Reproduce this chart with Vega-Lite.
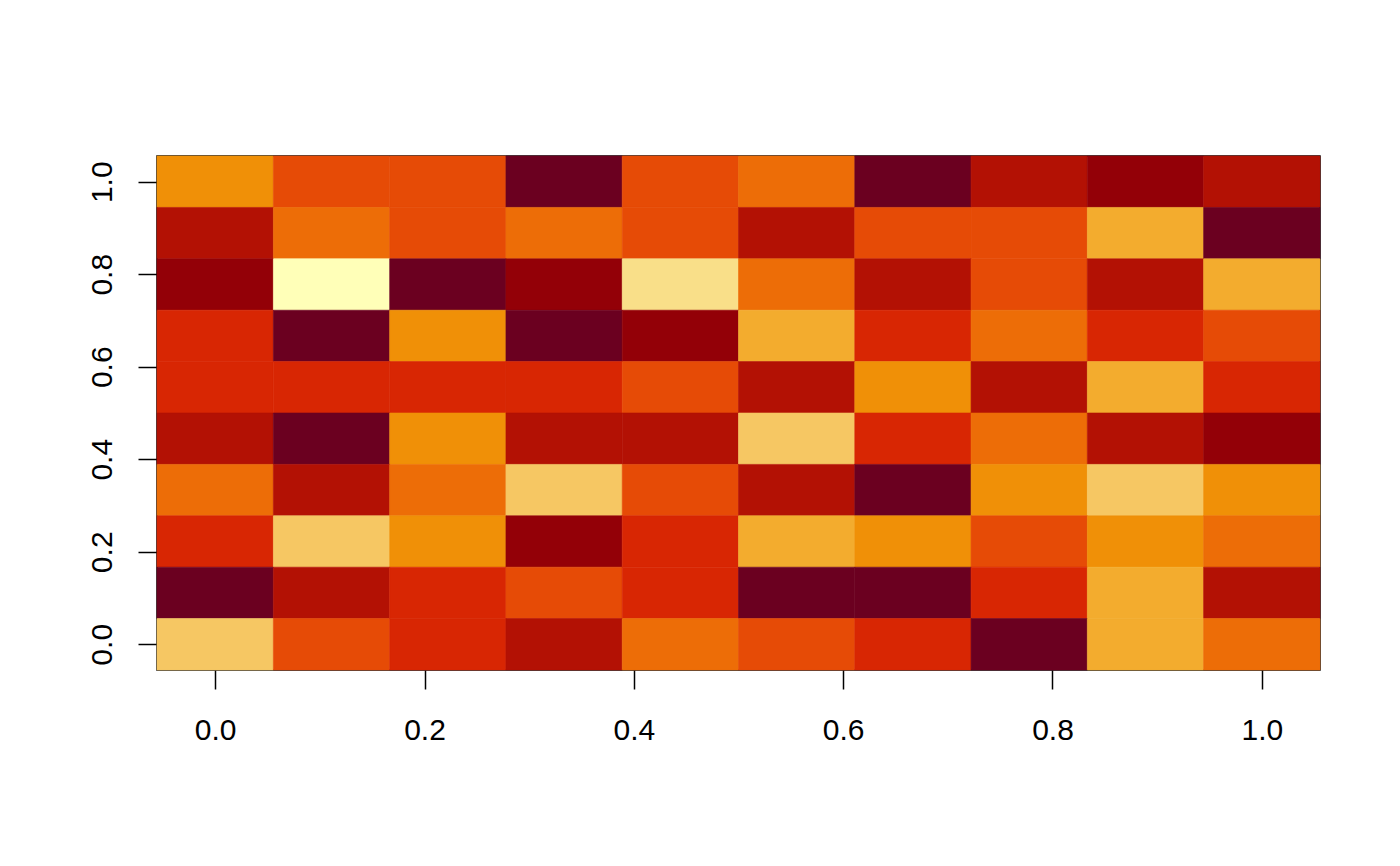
{
  "$schema": "https://vega.github.io/schema/vega-lite/v6.json",
  "width": 1163,
  "height": 514,
  "autosize": "none",
  "padding": {"left": 157, "top": 156, "right": 80, "bottom": 196},
  "background": "white",
  "config": {
    "view": {"stroke": "black", "strokeWidth": 1.5},
    "font": "Liberation Sans"
  },
  "datasets": {
    "grid": [
      {"x0": -0.0556, "x1": 0.0556, "y0": 0.9444, "y1": 1.0556, "v": 7},
      {"x0": 0.0556, "x1": 0.1667, "y0": 0.9444, "y1": 1.0556, "v": 5},
      {"x0": 0.1667, "x1": 0.2778, "y0": 0.9444, "y1": 1.0556, "v": 5},
      {"x0": 0.2778, "x1": 0.3889, "y0": 0.9444, "y1": 1.0556, "v": 1},
      {"x0": 0.3889, "x1": 0.5, "y0": 0.9444, "y1": 1.0556, "v": 5},
      {"x0": 0.5, "x1": 0.6111, "y0": 0.9444, "y1": 1.0556, "v": 6},
      {"x0": 0.6111, "x1": 0.7222, "y0": 0.9444, "y1": 1.0556, "v": 1},
      {"x0": 0.7222, "x1": 0.8333, "y0": 0.9444, "y1": 1.0556, "v": 3},
      {"x0": 0.8333, "x1": 0.9444, "y0": 0.9444, "y1": 1.0556, "v": 2},
      {"x0": 0.9444, "x1": 1.0556, "y0": 0.9444, "y1": 1.0556, "v": 3},

      {"x0": -0.0556, "x1": 0.0556, "y0": 0.8333, "y1": 0.9444, "v": 3},
      {"x0": 0.0556, "x1": 0.1667, "y0": 0.8333, "y1": 0.9444, "v": 6},
      {"x0": 0.1667, "x1": 0.2778, "y0": 0.8333, "y1": 0.9444, "v": 5},
      {"x0": 0.2778, "x1": 0.3889, "y0": 0.8333, "y1": 0.9444, "v": 6},
      {"x0": 0.3889, "x1": 0.5, "y0": 0.8333, "y1": 0.9444, "v": 5},
      {"x0": 0.5, "x1": 0.6111, "y0": 0.8333, "y1": 0.9444, "v": 3},
      {"x0": 0.6111, "x1": 0.7222, "y0": 0.8333, "y1": 0.9444, "v": 5},
      {"x0": 0.7222, "x1": 0.8333, "y0": 0.8333, "y1": 0.9444, "v": 5},
      {"x0": 0.8333, "x1": 0.9444, "y0": 0.8333, "y1": 0.9444, "v": 8},
      {"x0": 0.9444, "x1": 1.0556, "y0": 0.8333, "y1": 0.9444, "v": 1},

      {"x0": -0.0556, "x1": 0.0556, "y0": 0.7222, "y1": 0.8333, "v": 2},
      {"x0": 0.0556, "x1": 0.1667, "y0": 0.7222, "y1": 0.8333, "v": 11},
      {"x0": 0.1667, "x1": 0.2778, "y0": 0.7222, "y1": 0.8333, "v": 1},
      {"x0": 0.2778, "x1": 0.3889, "y0": 0.7222, "y1": 0.8333, "v": 2},
      {"x0": 0.3889, "x1": 0.5, "y0": 0.7222, "y1": 0.8333, "v": 10},
      {"x0": 0.5, "x1": 0.6111, "y0": 0.7222, "y1": 0.8333, "v": 6},
      {"x0": 0.6111, "x1": 0.7222, "y0": 0.7222, "y1": 0.8333, "v": 3},
      {"x0": 0.7222, "x1": 0.8333, "y0": 0.7222, "y1": 0.8333, "v": 5},
      {"x0": 0.8333, "x1": 0.9444, "y0": 0.7222, "y1": 0.8333, "v": 3},
      {"x0": 0.9444, "x1": 1.0556, "y0": 0.7222, "y1": 0.8333, "v": 8},

      {"x0": -0.0556, "x1": 0.0556, "y0": 0.6111, "y1": 0.7222, "v": 4},
      {"x0": 0.0556, "x1": 0.1667, "y0": 0.6111, "y1": 0.7222, "v": 1},
      {"x0": 0.1667, "x1": 0.2778, "y0": 0.6111, "y1": 0.7222, "v": 7},
      {"x0": 0.2778, "x1": 0.3889, "y0": 0.6111, "y1": 0.7222, "v": 1},
      {"x0": 0.3889, "x1": 0.5, "y0": 0.6111, "y1": 0.7222, "v": 2},
      {"x0": 0.5, "x1": 0.6111, "y0": 0.6111, "y1": 0.7222, "v": 8},
      {"x0": 0.6111, "x1": 0.7222, "y0": 0.6111, "y1": 0.7222, "v": 4},
      {"x0": 0.7222, "x1": 0.8333, "y0": 0.6111, "y1": 0.7222, "v": 6},
      {"x0": 0.8333, "x1": 0.9444, "y0": 0.6111, "y1": 0.7222, "v": 4},
      {"x0": 0.9444, "x1": 1.0556, "y0": 0.6111, "y1": 0.7222, "v": 5},

      {"x0": -0.0556, "x1": 0.0556, "y0": 0.5, "y1": 0.6111, "v": 4},
      {"x0": 0.0556, "x1": 0.1667, "y0": 0.5, "y1": 0.6111, "v": 4},
      {"x0": 0.1667, "x1": 0.2778, "y0": 0.5, "y1": 0.6111, "v": 4},
      {"x0": 0.2778, "x1": 0.3889, "y0": 0.5, "y1": 0.6111, "v": 4},
      {"x0": 0.3889, "x1": 0.5, "y0": 0.5, "y1": 0.6111, "v": 5},
      {"x0": 0.5, "x1": 0.6111, "y0": 0.5, "y1": 0.6111, "v": 3},
      {"x0": 0.6111, "x1": 0.7222, "y0": 0.5, "y1": 0.6111, "v": 7},
      {"x0": 0.7222, "x1": 0.8333, "y0": 0.5, "y1": 0.6111, "v": 3},
      {"x0": 0.8333, "x1": 0.9444, "y0": 0.5, "y1": 0.6111, "v": 8},
      {"x0": 0.9444, "x1": 1.0556, "y0": 0.5, "y1": 0.6111, "v": 4},

      {"x0": -0.0556, "x1": 0.0556, "y0": 0.3889, "y1": 0.5, "v": 3},
      {"x0": 0.0556, "x1": 0.1667, "y0": 0.3889, "y1": 0.5, "v": 1},
      {"x0": 0.1667, "x1": 0.2778, "y0": 0.3889, "y1": 0.5, "v": 7},
      {"x0": 0.2778, "x1": 0.3889, "y0": 0.3889, "y1": 0.5, "v": 3},
      {"x0": 0.3889, "x1": 0.5, "y0": 0.3889, "y1": 0.5, "v": 3},
      {"x0": 0.5, "x1": 0.6111, "y0": 0.3889, "y1": 0.5, "v": 9},
      {"x0": 0.6111, "x1": 0.7222, "y0": 0.3889, "y1": 0.5, "v": 4},
      {"x0": 0.7222, "x1": 0.8333, "y0": 0.3889, "y1": 0.5, "v": 6},
      {"x0": 0.8333, "x1": 0.9444, "y0": 0.3889, "y1": 0.5, "v": 3},
      {"x0": 0.9444, "x1": 1.0556, "y0": 0.3889, "y1": 0.5, "v": 2},

      {"x0": -0.0556, "x1": 0.0556, "y0": 0.2778, "y1": 0.3889, "v": 6},
      {"x0": 0.0556, "x1": 0.1667, "y0": 0.2778, "y1": 0.3889, "v": 3},
      {"x0": 0.1667, "x1": 0.2778, "y0": 0.2778, "y1": 0.3889, "v": 6},
      {"x0": 0.2778, "x1": 0.3889, "y0": 0.2778, "y1": 0.3889, "v": 9},
      {"x0": 0.3889, "x1": 0.5, "y0": 0.2778, "y1": 0.3889, "v": 5},
      {"x0": 0.5, "x1": 0.6111, "y0": 0.2778, "y1": 0.3889, "v": 3},
      {"x0": 0.6111, "x1": 0.7222, "y0": 0.2778, "y1": 0.3889, "v": 1},
      {"x0": 0.7222, "x1": 0.8333, "y0": 0.2778, "y1": 0.3889, "v": 7},
      {"x0": 0.8333, "x1": 0.9444, "y0": 0.2778, "y1": 0.3889, "v": 9},
      {"x0": 0.9444, "x1": 1.0556, "y0": 0.2778, "y1": 0.3889, "v": 7},

      {"x0": -0.0556, "x1": 0.0556, "y0": 0.1667, "y1": 0.2778, "v": 4},
      {"x0": 0.0556, "x1": 0.1667, "y0": 0.1667, "y1": 0.2778, "v": 9},
      {"x0": 0.1667, "x1": 0.2778, "y0": 0.1667, "y1": 0.2778, "v": 7},
      {"x0": 0.2778, "x1": 0.3889, "y0": 0.1667, "y1": 0.2778, "v": 2},
      {"x0": 0.3889, "x1": 0.5, "y0": 0.1667, "y1": 0.2778, "v": 4},
      {"x0": 0.5, "x1": 0.6111, "y0": 0.1667, "y1": 0.2778, "v": 8},
      {"x0": 0.6111, "x1": 0.7222, "y0": 0.1667, "y1": 0.2778, "v": 7},
      {"x0": 0.7222, "x1": 0.8333, "y0": 0.1667, "y1": 0.2778, "v": 5},
      {"x0": 0.8333, "x1": 0.9444, "y0": 0.1667, "y1": 0.2778, "v": 7},
      {"x0": 0.9444, "x1": 1.0556, "y0": 0.1667, "y1": 0.2778, "v": 6},

      {"x0": -0.0556, "x1": 0.0556, "y0": 0.0556, "y1": 0.1667, "v": 1},
      {"x0": 0.0556, "x1": 0.1667, "y0": 0.0556, "y1": 0.1667, "v": 3},
      {"x0": 0.1667, "x1": 0.2778, "y0": 0.0556, "y1": 0.1667, "v": 4},
      {"x0": 0.2778, "x1": 0.3889, "y0": 0.0556, "y1": 0.1667, "v": 5},
      {"x0": 0.3889, "x1": 0.5, "y0": 0.0556, "y1": 0.1667, "v": 4},
      {"x0": 0.5, "x1": 0.6111, "y0": 0.0556, "y1": 0.1667, "v": 1},
      {"x0": 0.6111, "x1": 0.7222, "y0": 0.0556, "y1": 0.1667, "v": 1},
      {"x0": 0.7222, "x1": 0.8333, "y0": 0.0556, "y1": 0.1667, "v": 4},
      {"x0": 0.8333, "x1": 0.9444, "y0": 0.0556, "y1": 0.1667, "v": 8},
      {"x0": 0.9444, "x1": 1.0556, "y0": 0.0556, "y1": 0.1667, "v": 3},

      {"x0": -0.0556, "x1": 0.0556, "y0": -0.0556, "y1": 0.0556, "v": 9},
      {"x0": 0.0556, "x1": 0.1667, "y0": -0.0556, "y1": 0.0556, "v": 5},
      {"x0": 0.1667, "x1": 0.2778, "y0": -0.0556, "y1": 0.0556, "v": 4},
      {"x0": 0.2778, "x1": 0.3889, "y0": -0.0556, "y1": 0.0556, "v": 3},
      {"x0": 0.3889, "x1": 0.5, "y0": -0.0556, "y1": 0.0556, "v": 6},
      {"x0": 0.5, "x1": 0.6111, "y0": -0.0556, "y1": 0.0556, "v": 5},
      {"x0": 0.6111, "x1": 0.7222, "y0": -0.0556, "y1": 0.0556, "v": 4},
      {"x0": 0.7222, "x1": 0.8333, "y0": -0.0556, "y1": 0.0556, "v": 1},
      {"x0": 0.8333, "x1": 0.9444, "y0": -0.0556, "y1": 0.0556, "v": 8},
      {"x0": 0.9444, "x1": 1.0556, "y0": -0.0556, "y1": 0.0556, "v": 6}
    ]
  },
  "data": {"name": "grid"},
  "mark": {"type": "rect", "strokeWidth": 0.6},
  "encoding": {
    "x": {
      "field": "x0",
      "type": "quantitative",
      "scale": {"domain": [-0.0556, 1.0556], "nice": false, "zero": false},
      "axis": {
        "title": null,
        "values": [0, 0.2, 0.4, 0.6, 0.8, 1.0],
        "format": ".1f",
        "grid": false,
        "domain": false,
        "tickColor": "black",
        "tickWidth": 1.5,
        "tickSize": 19,
        "labelFontSize": 30,
        "labelColor": "black",
        "labelPadding": 26,
        "labelFont": "Liberation Sans"
      }
    },
    "x2": {"field": "x1"},
    "y": {
      "field": "y0",
      "type": "quantitative",
      "scale": {"domain": [-0.0556, 1.0556], "nice": false, "zero": false},
      "axis": {
        "title": null,
        "values": [0, 0.2, 0.4, 0.6, 0.8, 1.0],
        "format": ".1f",
        "grid": false,
        "domain": false,
        "tickColor": "black",
        "tickWidth": 1.5,
        "tickSize": 19,
        "labelFontSize": 30,
        "labelColor": "black",
        "labelAngle": 270,
        "labelAlign": "center",
        "labelBaseline": "alphabetic",
        "labelPadding": 27,
        "labelFont": "Liberation Sans"
      }
    },
    "y2": {"field": "y1"},
    "color": {
      "field": "v",
      "type": "ordinal",
      "scale": {
        "domain": [1, 2, 3, 4, 5, 6, 7, 8, 9, 10, 11],
        "range": ["#6B0020", "#930007", "#B31104", "#D82603", "#E64B06", "#ED6D07", "#F09007", "#F3AC2E", "#F6C763", "#F9DF89", "#FFFFB8"]
      },
      "legend": null
    },
    "stroke": {
      "field": "v",
      "type": "ordinal",
      "scale": {
        "domain": [1, 2, 3, 4, 5, 6, 7, 8, 9, 10, 11],
        "range": ["#6B0020", "#930007", "#B31104", "#D82603", "#E64B06", "#ED6D07", "#F09007", "#F3AC2E", "#F6C763", "#F9DF89", "#FFFFB8"]
      },
      "legend": null
    }
  }
}
